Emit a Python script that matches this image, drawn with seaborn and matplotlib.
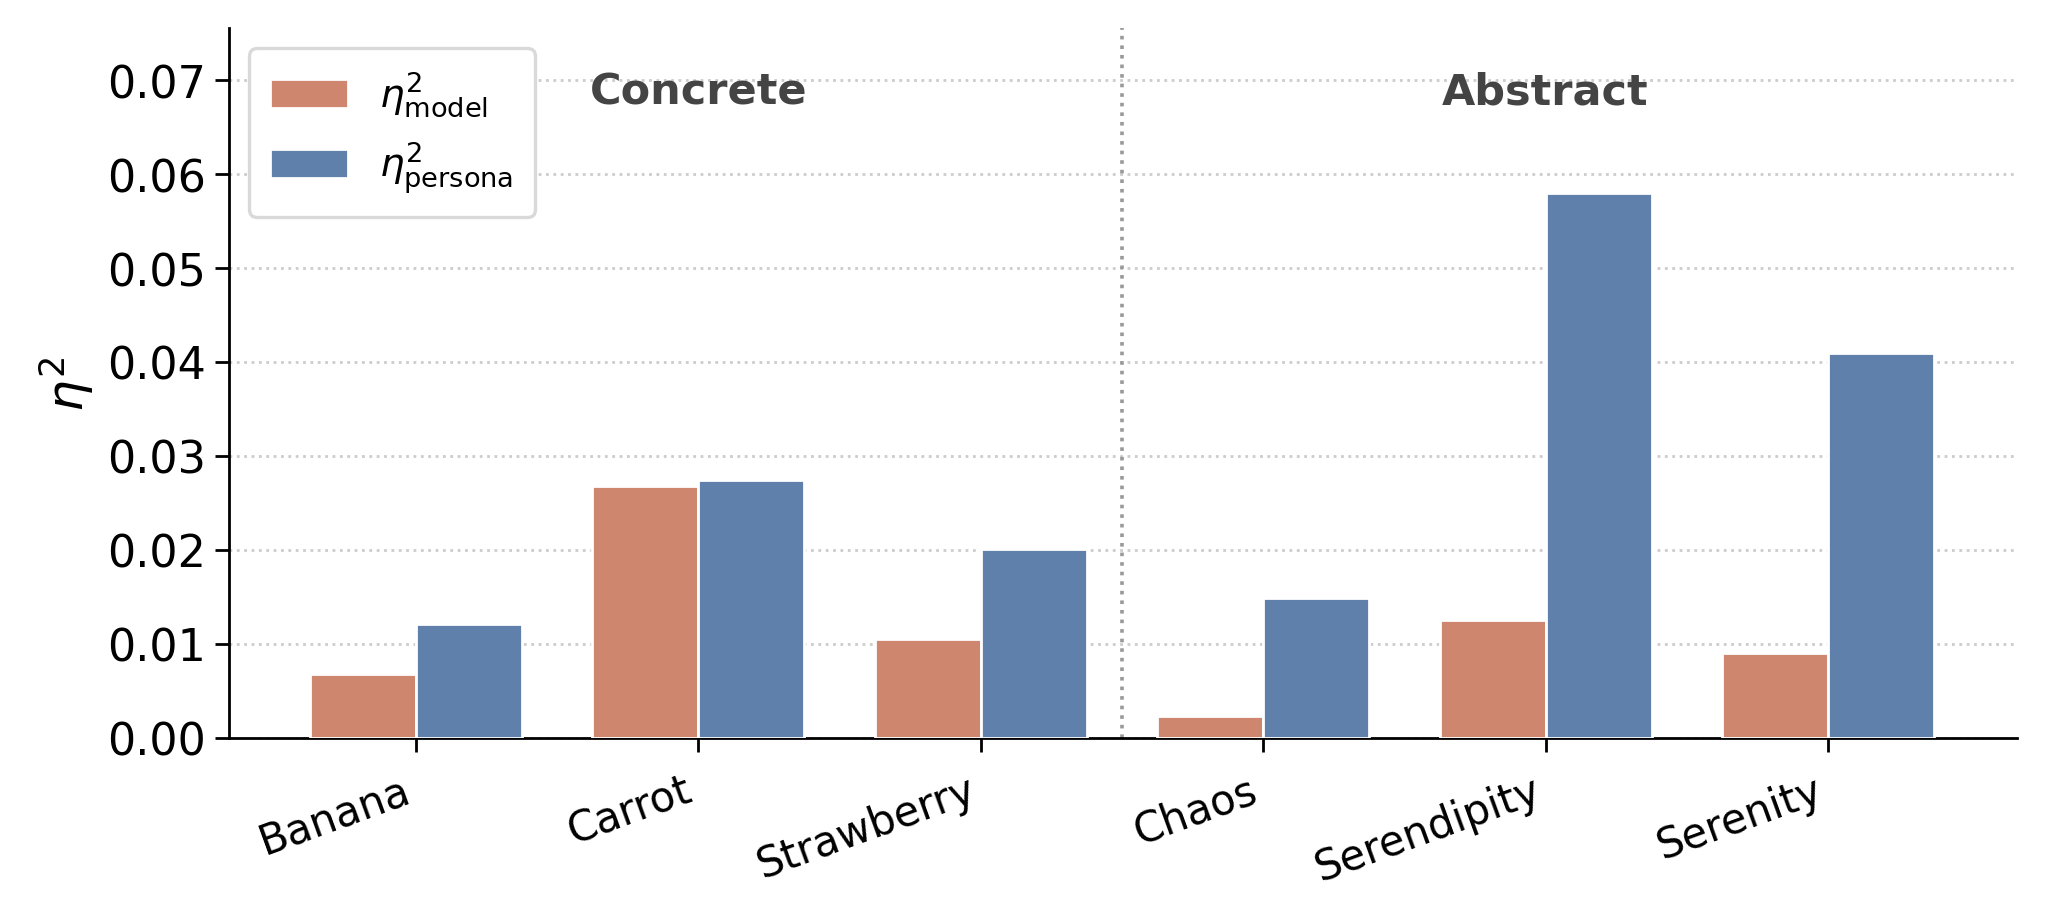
import numpy as np
import pandas as pd
import matplotlib
matplotlib.use('Agg')
import matplotlib.pyplot as plt
import seaborn as sb

words = ['Banana', 'Carrot', 'Strawberry', 'Chaos', 'Serendipity', 'Serenity']
eta_model = [0.0068, 0.0268, 0.0105, 0.0023, 0.0125, 0.0090]
eta_persona = [0.0121, 0.0274, 0.0201, 0.0149, 0.0580, 0.0410]
series_labels = [r'$\eta^2_{\mathrm{model}}$', r'$\eta^2_{\mathrm{persona}}$']
group_labels = ['Concrete', 'Abstract']
yticks = [0.00, 0.01, 0.02, 0.03, 0.04, 0.05, 0.06, 0.07]

colors = ['#CE866E', '#5E80AB']

sb.set_style('ticks')
plt.rcParams['font.family'] = ['DejaVu Sans']
plt.rcParams['text.color'] = 'black'
plt.rcParams['axes.labelcolor'] = 'black'
plt.rcParams['xtick.color'] = 'black'
plt.rcParams['ytick.color'] = 'black'

df = pd.DataFrame({
    'word': words * 2,
    'eta': eta_model + eta_persona,
    'kind': [series_labels[0]] * len(words) + [series_labels[1]] * len(words),
})

fig = plt.figure(figsize=(10.24, 4.6), dpi=200)
ax = fig.add_axes([0.112, 0.197, 0.873, 0.771])

sb.barplot(data=df, x='word', y='eta', hue='kind', palette=colors, width=0.75,
           edgecolor='white', linewidth=1, saturation=1, ax=ax, zorder=3)

ax.set_xlim(-0.66, 5.67)
ax.set_ylim(0, 0.0755)
ax.set_yticks(yticks)
ax.set_yticklabels([f'{t:.2f}' for t in yticks], fontsize=16)
ax.yaxis.grid(True, linestyle=':', color='#cccccc', linewidth=1, zorder=0)
ax.set_axisbelow(True)
ax.axvline(2.5, color='#999999', linestyle=':', linewidth=1.3, zorder=1)

ax.set_xlabel('')
ax.set_ylabel(r'$\eta^2$', fontsize=18)
plt.setp(ax.get_xticklabels(), rotation=20, ha='right', fontsize=15)

ax.text(1, 0.0688, group_labels[0], ha='center', va='center', fontsize=15.5,
        fontweight='bold', color='#444444')
ax.text(4, 0.0688, group_labels[1], ha='center', va='center', fontsize=15.5,
        fontweight='bold', color='#444444')

leg = ax.legend(loc='upper left', fontsize=14, frameon=True, fancybox=True,
                edgecolor='#d9d9d9', framealpha=1, borderpad=0.55,
                handlelength=2.0, handleheight=0.8, labelspacing=0.5)
leg.get_frame().set_linewidth(1.2)

sb.despine(ax=ax)
ax.tick_params(axis='both', length=5, width=1, color='black')
ax.tick_params(axis='x', pad=6)
for s in ['left', 'bottom']:
    ax.spines[s].set_color('black')
    ax.spines[s].set_linewidth(1)

fig.savefig('out.png', dpi=200)
